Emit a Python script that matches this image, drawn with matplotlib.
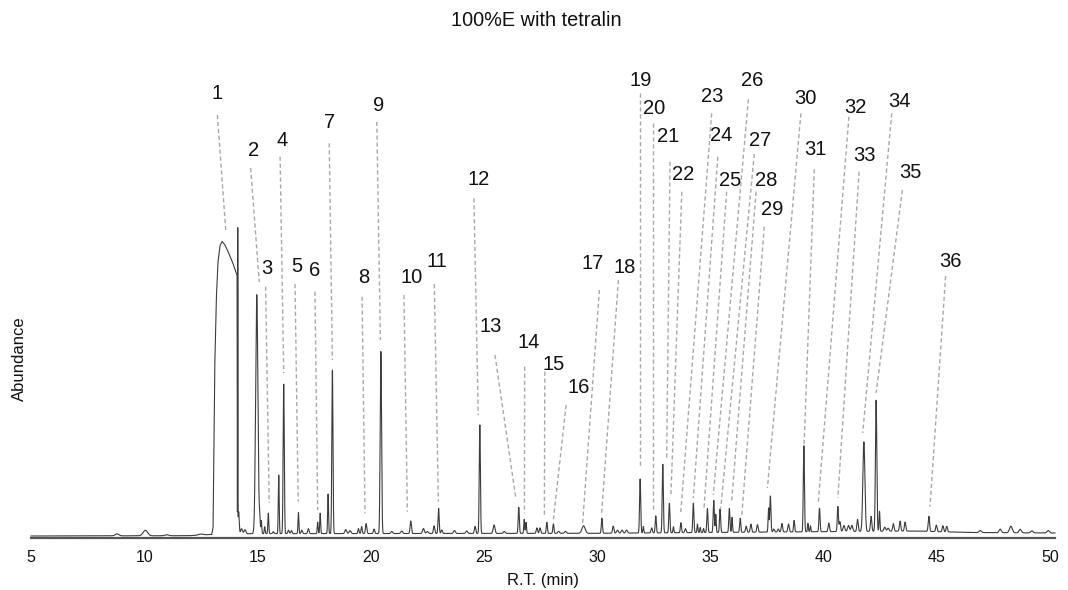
import numpy as np
import matplotlib
matplotlib.use("Agg")
import matplotlib.pyplot as plt

plt.rcParams['font.family'] = ['Liberation Sans', 'DejaVu Sans']

# retention time (min), peak height above baseline, peak width (sd, min)
peak_rt = [8.8, 10.05, 11.0, 12.5,
           14.13, 14.17, 14.3, 14.45,
           14.97, 15.1, 15.17, 15.32, 15.48, 15.7, 15.94, 16.16, 16.37, 16.5,
           16.81, 16.96, 17.25, 17.66, 17.77, 18.12, 18.31, 18.9, 19.09,
           19.46, 19.6, 19.8, 20.15, 20.45, 20.93, 21.37, 21.77, 22.33, 22.5,
           22.8, 23.0, 23.14, 23.7, 24.24, 24.61, 24.82, 25.45, 25.9,
           26.54, 26.78, 26.86, 27.34, 27.48, 27.78, 28.07, 28.3, 28.6,
           29.4, 30.21, 30.71, 30.9, 31.1, 31.3,
           31.9, 32.04, 32.41, 32.59, 32.9, 33.19, 33.37, 33.7, 33.9,
           34.25, 34.43, 34.55, 34.7, 34.87, 35.15, 35.24, 35.43, 35.84, 35.96,
           36.32, 36.58, 36.79, 37.08, 37.57, 37.65, 37.8, 38.0,
           38.16, 38.45, 38.7, 39.13, 39.31, 39.42, 39.82, 40.23, 40.63, 40.72,
           40.9, 41.1, 41.25, 41.5, 41.78, 42.1, 42.32, 42.47, 42.7, 42.85,
           43.08, 43.38, 43.6, 44.65, 44.98, 45.27, 45.44, 46.92,
           47.8, 48.27, 48.68, 49.2, 49.92]
peak_amp = [2, 5.5, 1, 1,
            300, 22, 5, 4,
            239, 15, 13, 7, 20.5, 2, 58.5, 149.5, 3.5, 3,
            21, 3.5, 5, 11.5, 20.5, 39.5, 163.5, 4, 3,
            5, 7, 10, 4.5, 182, 2, 2.5, 12.5, 5, 2,
            7.5, 25, 3.5, 3, 2.5, 7, 108.5, 8.5, 2,
            26, 14, 11, 5.5, 5.5, 11, 9.5, 2, 2,
            7.5, 15, 7, 3, 3, 3,
            54, 6.5, 5, 17, 68.5, 29.5, 6, 10, 4,
            29.5, 8.5, 5, 4, 24, 32, 18, 23.5, 24, 15,
            14, 6, 8, 7.5, 24, 36, 3, 3,
            8.5, 8, 11.5, 86, 8.5, 6, 23.5, 8.5, 25, 10,
            6, 6, 6, 12, 89.5, 15, 131, 20, 4, 3,
            7.5, 10, 9, 15, 6.5, 6, 5.5, 2,
            3.5, 6.5, 3.5, 2, 2.5]
peak_sd = [0.08, 0.1, 0.08, 0.1,
           0.006, 0.025, 0.04, 0.04,
           0.05, 0.02, 0.02, 0.02, 0.02, 0.03, 0.02, 0.025, 0.03, 0.03,
           0.02, 0.03, 0.03, 0.02, 0.02, 0.02, 0.025, 0.04, 0.04,
           0.025, 0.025, 0.03, 0.03, 0.03, 0.04, 0.04, 0.03, 0.04, 0.04,
           0.03, 0.025, 0.03, 0.04, 0.04, 0.03, 0.025, 0.04, 0.04,
           0.025, 0.02, 0.02, 0.03, 0.03, 0.025, 0.025, 0.04, 0.04,
           0.07, 0.025, 0.03, 0.04, 0.04, 0.04,
           0.025, 0.02, 0.03, 0.025, 0.025, 0.025, 0.02, 0.025, 0.03,
           0.025, 0.02, 0.02, 0.02, 0.025, 0.025, 0.02, 0.025, 0.025, 0.02,
           0.025, 0.03, 0.03, 0.03, 0.02, 0.025, 0.03, 0.03,
           0.03, 0.03, 0.025, 0.025, 0.02, 0.02, 0.025, 0.03, 0.025, 0.03,
           0.04, 0.04, 0.04, 0.03, 0.045, 0.03, 0.03, 0.02, 0.04, 0.04,
           0.03, 0.03, 0.03, 0.03, 0.03, 0.03, 0.03, 0.05,
           0.05, 0.06, 0.05, 0.05, 0.05]

# baseline level read along the run
base_t = [5, 12.0, 12.9, 14.3, 30, 38, 44, 46.5, 50.22]
base_h = [1.5, 1.8, 3.0, 3.8, 4.2, 5.5, 6.5, 5.0, 4.5]

# outline of the overloaded solvent peak
solvent_t = [12.98, 13.04, 13.08, 13.12, 13.19, 13.26, 13.35, 13.44, 13.55,
             13.7, 13.92, 14.1, 14.11]
solvent_h = [3, 10, 90, 176, 242, 276, 292, 296, 293, 286, 274, 262, 62]

# peak labels: label position, leader start, leader end (time, abundance)
lab_t = [13.23, 14.82, 15.41, 16.07, 16.73, 17.54, 18.20, 19.71, 20.34, 21.81,
         22.94, 24.75, 25.31, 26.96, 28.07, 29.20, 29.81, 31.23, 31.93, 32.51,
         33.13, 33.79, 35.06, 35.50, 35.87, 36.83, 37.19, 37.45, 37.75, 39.20,
         39.62, 41.39, 41.79, 43.33, 43.82, 45.62]
lab_h = [444.2, 387.5, 269.2, 397.5, 270.8, 266.8, 414.8, 260.2, 432.5, 260.2,
         275.8, 358.2, 211.5, 194.8, 172.5, 149.8, 274.2, 270.2, 457.5, 429.5,
         400.8, 363.5, 441.5, 402.5, 357.5, 456.8, 397.5, 357.5, 328.2, 439.2,
         388.2, 430.2, 382.5, 435.8, 364.8, 275.8]
lead_t0 = [13.23, 14.70, 15.36, 16.00, 16.66, 17.54, 18.17, 19.62, 20.27, 21.47,
           22.81, 24.56, 25.49, 26.80, 27.69, 28.63, 30.10, 30.94, 31.89, 32.46,
           33.22, 33.74, 35.06, 35.33, 35.72, 36.68, 36.94, 37.02, 37.38, 39.00,
           39.59, 41.12, 41.57, 43.01, 43.48, 45.39]
lead_h0 = [422.5, 369.5, 250.8, 380.8, 253.5, 245.8, 394.2, 240.8, 415.8, 242.5,
           253.5, 339.2, 182.5, 170.8, 165.8, 132.5, 247.5, 257.5, 444.8, 414.2,
           375.8, 345.8, 424.2, 380.8, 345.8, 438.2, 383.5, 345.8, 310.8, 424.2,
           368.2, 420.8, 365.8, 424.2, 347.5, 261.5]
lead_t1 = [13.60, 15.08, 15.52, 16.16, 16.80, 17.66, 18.31, 19.75, 20.43, 21.62,
           22.99, 24.75, 26.41, 26.79, 27.67, 28.07, 29.36, 30.20, 31.89, 32.46,
           33.07, 33.26, 33.69, 34.25, 34.72, 35.13, 35.46, 35.94, 36.39, 37.52,
           39.14, 39.77, 40.63, 41.73, 42.32, 44.70]
lead_h1 = [307.5, 255.5, 34.5, 164.5, 35.8, 27.5, 177.5, 24.2, 197.5, 25.8,
           35.8, 122.5, 39.2, 24.2, 20.8, 18.2, 14.2, 24.2, 69.5, 25.8,
           77.5, 42.5, 24.2, 39.5, 29.5, 42.5, 29.5, 35.8, 22.5, 49.5,
           92.5, 35.8, 39.5, 104.5, 144.5, 30.8]

# build the trace from the peak table
t = np.arange(5.0, 50.22, 0.002)
signal = np.interp(t, base_t, base_h)
for rt, amp, sd in zip(peak_rt, peak_amp, peak_sd):
    signal += amp * np.exp(-0.5 * ((t - rt) / sd) ** 2)
before = t < solvent_t[0]
after = t > solvent_t[-1] + 0.005
trace_t = np.concatenate([t[before], solvent_t, t[after]])
trace_h = np.concatenate([signal[before], solvent_h, signal[after]])

fig = plt.figure(figsize=(10.68, 5.9), dpi=100)
ax = fig.add_axes([31 / 1068, 52.5 / 590, 1024 / 1068, 356.5 / 590])

ax.plot(trace_t, trace_h, color='#3c3c3c', lw=0.8, clip_on=False, zorder=3)

for i in range(len(lab_t)):
    ax.plot([lead_t0[i], lead_t1[i]], [lead_h0[i], lead_h1[i]],
            color='#a8a8a8', lw=1.0, ls=(0, (3, 2)), clip_on=False, zorder=2)
    ax.text(lab_t[i], lab_h[i], str(i + 1), ha='center', va='center',
            fontsize=14.5, color='#111111')

ax.set_xlim(5, 50.22)
ax.set_ylim(0, 356.5)
ax.set_xticks(range(5, 51, 5))
ax.set_yticks([])
ax.tick_params(axis='x', length=0, pad=9, labelsize=11.5, labelcolor='#111111')
for side in ['left', 'right', 'top']:
    ax.spines[side].set_visible(False)
ax.spines['bottom'].set_color('#555555')
ax.spines['bottom'].set_linewidth(1.6)

fig.text(543 / 1068, 1 - 580 / 590, 'R.T. (min)', ha='center', va='center',
         fontsize=12, color='#111111')
fig.text(19.5 / 1068, 1 - 359 / 590, 'Abundance', ha='center', va='center',
         rotation=90, fontsize=12, color='#111111')
fig.text(536 / 1068, 1 - 20 / 590, '100%E with tetralin', ha='center',
         va='center', fontsize=14.3, color='#111111')

fig.savefig('out.png', dpi=100)
